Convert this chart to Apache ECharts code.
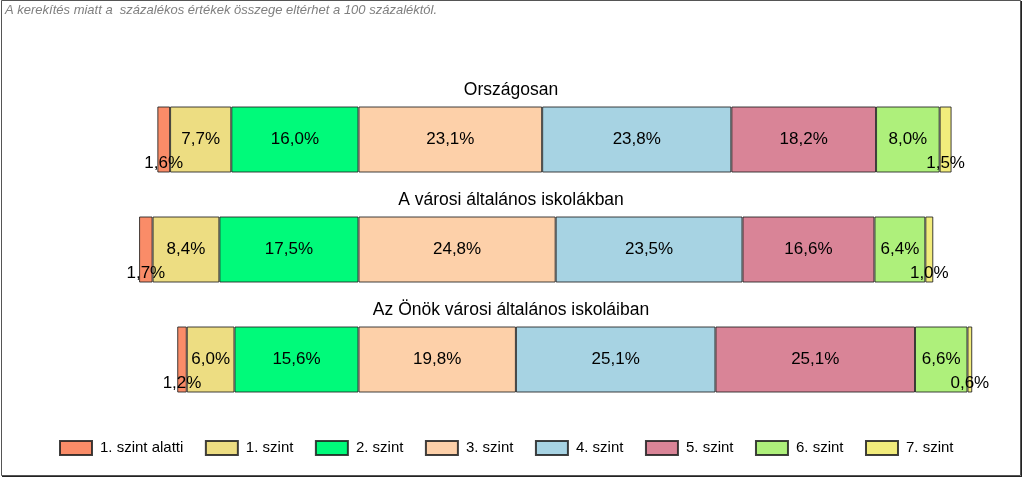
<!DOCTYPE html>
<html>
<head>
<meta charset="utf-8">
<script src="https://cdn.jsdelivr.net/npm/echarts@6/dist/echarts.min.js"></script>
<style>
html,body{margin:0;padding:0;background:#fff;}
#chart{width:1024px;height:478px;}
</style>
</head>
<body>
<div id="chart"></div>
<script>
var categories = ['Országosan', 'A városi általános iskolákban', 'Az Önök városi általános iskoláiban'];
var levelNames = ['1. szint alatti', '1. szint', '2. szint', '3. szint', '4. szint', '5. szint', '6. szint', '7. szint'];
var levelBelow1 = [1.6, 1.7, 1.2];
var level1 = [7.7, 8.4, 6.0];
var level2 = [16.0, 17.5, 15.6];
var level3 = [23.1, 24.8, 19.8];
var level4 = [23.8, 23.5, 25.1];
var level5 = [18.2, 16.6, 25.1];
var level6 = [8.0, 6.4, 6.6];
var level7 = [1.5, 1.0, 0.6];
var noteText = 'A kerekítés miatt a  százalékos értékek összege eltérhet a 100 százaléktól.';

var colors = {
  '1. szint alatti': '#FA8C68',
  '1. szint': '#EDDD82',
  '2. szint': '#00FA7A',
  '3. szint': '#FDD0A9',
  '4. szint': '#A7D3E3',
  '5. szint': '#D98497',
  '6. szint': '#AEF07B',
  '7. szint': '#F2EC7C'
};

function fmt(p) {
  return Math.abs(p.value).toFixed(1).replace('.', ',') + '%';
}
function neg(arr) { return arr.map(function (v) { return -v; }); }

function mk(name, data, small) {
  return {
    name: name,
    type: 'bar',
    stack: 'total',
    barWidth: 66,
    data: data,
    itemStyle: { color: colors[name], borderColor: 'rgba(30,30,30,0.85)', borderWidth: 1 },
    label: {
      show: true,
      position: 'inside',
      offset: small ? [0, 24] : [0, 0],
      formatter: fmt,
      fontFamily: 'Liberation Sans, Arial, sans-serif',
      fontSize: 17,
      color: '#000'
    },
    emphasis: { disabled: true }
  };
}

var series = [
  mk('2. szint', neg(level2), false),
  mk('1. szint', neg(level1), false),
  mk('1. szint alatti', neg(levelBelow1), true),
  mk('3. szint', level3, false),
  mk('4. szint', level4, false),
  mk('5. szint', level5, false),
  mk('6. szint', level6, false),
  mk('7. szint', level7, true)
];

var chart = echarts.init(document.getElementById('chart'), null, { renderer: 'canvas' });
var option = {
  animation: false,
  backgroundColor: '#fff',
  grid: { left: 120, width: 874.5, top: 84.5, height: 330 },
  xAxis: { type: 'value', min: -30, max: 80, show: false },
  yAxis: { type: 'category', data: categories, inverse: true, show: false },
  legend: {
    data: levelNames,
    left: 59,
    top: 440,
    padding: 0,
    itemWidth: 32,
    itemHeight: 14,
    itemGap: 21.5,
    icon: 'rect',
    textStyle: { fontFamily: 'Liberation Sans, Arial, sans-serif', fontSize: 15, color: '#000', padding: [0, 0, 0, 3] },
    selectedMode: false
  },
  series: series
};
chart.setOption(option);

var graphics = [
  { type: 'rect', shape: { x: 1.5, y: 0.5, width: 1019, height: 475 }, style: { fill: 'none', stroke: '#555', lineWidth: 1 }, silent: true },
  { type: 'line', shape: { x1: 1021.5, y1: 1, x2: 1021.5, y2: 477 }, style: { stroke: '#222', lineWidth: 1 }, silent: true },
  { type: 'line', shape: { x1: 2, y1: 476.5, x2: 1022, y2: 476.5 }, style: { stroke: '#222', lineWidth: 1 }, silent: true },
  { type: 'text', left: 5, top: 4, style: { text: noteText, fontFamily: 'Liberation Sans, Arial, sans-serif', fontStyle: 'italic', fontSize: 13, fill: '#7f7f7f' }, silent: true }
];
categories.forEach(function (c) {
  var y = chart.convertToPixel({ yAxisIndex: 0 }, c);
  graphics.push({
    type: 'text',
    x: 511, y: y - 49,
    style: { text: c, fontFamily: 'Liberation Sans, Arial, sans-serif', fontSize: 17.5, fill: '#000', align: 'center', verticalAlign: 'middle' },
    silent: true
  });
});
chart.setOption({ graphic: graphics });
</script>
</body>
</html>
